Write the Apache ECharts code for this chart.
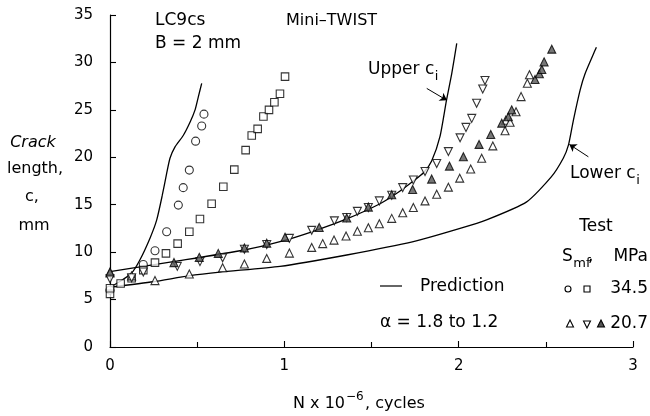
<!DOCTYPE html>
<html><head><meta charset="utf-8">
<script src="https://cdn.jsdelivr.net/npm/echarts/dist/echarts.min.js"></script>
<style>html,body{margin:0;padding:0;background:#fff}#c{width:650px;height:416px}</style>
</head><body><div id="c"></div>
<script>
// ---- data ----
const xTicks = [0, 1, 2, 3];
const yTicks = [0, 5, 10, 15, 20, 25, 30, 35];
// S_mf = 34.5 MPa
const circles345 = [[0,6.0],[0.191,8.7],[0.258,10.15],[0.325,12.15],[0.392,14.96],[0.42,16.8],[0.455,18.65],[0.491,21.7],[0.526,23.3],[0.539,24.55]];
const squares345 = [[0,5.6],[0,6.2],[0.061,6.7],[0.124,7.24],[0.191,8.1],[0.258,8.9],[0.321,9.87],[0.388,10.9],[0.455,12.15],[0.516,13.5],[0.583,15.1],[0.65,16.9],[0.713,18.7],[0.778,20.76],[0.813,22.3],[0.847,23.0],[0.88,24.3],[0.912,25.0],[0.943,25.8],[0.975,26.7],[1.004,28.5]];
// S_mf = 20.7 MPa
const upTri207 = [[0,7.8],[0.124,7.5],[0.258,7.0],[0.455,7.7],[0.646,8.36],[0.771,8.75],[0.899,9.34],[1.029,9.9],[1.157,10.5],[1.22,10.9],[1.285,11.27],[1.354,11.7],[1.419,12.2],[1.482,12.57],[1.545,13.0],[1.616,13.56],[1.679,14.15],[1.74,14.7],[1.807,15.4],[1.874,16.1],[1.941,16.85],[2.006,17.8],[2.069,18.76],[2.132,19.9],[2.196,21.2],[2.266,22.8],[2.27,23.9],[2.295,23.7],[2.329,24.8],[2.358,26.4],[2.394,27.8],[2.406,28.7]];
const downTri207 = [[0,7.2],[0.124,7.3],[0.191,7.9],[0.386,8.5],[0.516,9.0],[0.646,9.4],[0.771,10.3],[0.899,10.8],[1.029,11.45],[1.157,12.3],[1.287,13.3],[1.358,13.66],[1.419,14.3],[1.482,14.7],[1.545,15.4],[1.616,16.0],[1.679,16.8],[1.74,17.6],[1.807,18.5],[1.874,19.35],[1.941,20.6],[2.008,22.05],[2.042,23.15],[2.075,24.1],[2.103,25.7],[2.138,27.2],[2.151,28.1]];
const filledTri207 = [[0,7.9],[0.367,8.9],[0.512,9.45],[0.621,9.87],[0.771,10.45],[0.899,10.95],[1.004,11.56],[1.2,12.6],[1.358,13.6],[1.482,14.75],[1.616,16.05],[1.736,16.6],[1.845,17.7],[1.947,19.07],[2.027,20.05],[2.117,21.36],[2.184,22.4],[2.247,23.6],[2.285,24.27],[2.304,25.0],[2.438,28.2],[2.463,28.8],[2.477,29.26],[2.49,30.06],[2.534,31.4]];
// predictions
const pred345 = [[0,6.3],[0.057,6.9],[0.124,7.8],[0.172,9.2],[0.23,11.5],[0.268,13.4],[0.3,16.0],[0.325,18.3],[0.344,19.9],[0.373,21.1],[0.42,22.3],[0.459,23.7],[0.488,25.0],[0.507,26.4],[0.526,27.8]];
const upperCi = [[0,7.95],[0.363,9.0],[0.765,10.2],[0.975,11.1],[1.166,12.2],[1.358,13.5],[1.549,15.1],[1.645,16.2],[1.74,17.5],[1.8,18.4],[1.845,19.6],[1.893,22.2],[1.93,26.0],[1.96,28.8],[1.989,32.0]];
const lowerCi = [[0,6.3],[0.249,6.88],[0.449,7.5],[0.63,7.9],[0.975,8.5],[1.358,9.7],[1.74,11.1],[2.008,12.5],[2.16,13.4],[2.39,15.3],[2.53,17.9],[2.6,19.9],[2.63,21.3],[2.658,23.9],[2.697,27.1],[2.725,28.8],[2.783,31.3],[2.79,31.6]];
const arrowUpper = [[1.817,27.26],[1.933,26.0]];
const arrowLower = [[2.744,20.05],[2.635,21.36]];

// ---- chart ----
const FONT = '"DejaVu Sans", sans-serif';
const mctx = document.createElement('canvas').getContext('2d');
function tw(text, size){ mctx.font = size + 'px ' + FONT; return mctx.measureText(text).width; }
const chart = echarts.init(document.getElementById('c'), null, {renderer:'canvas'});
const open = {color:'#fff', borderColor:'#000', borderWidth:1.1};
function sc(data, symbol, size, style, rot){
  return {type:'scatter', data, symbol, symbolSize:size, symbolRotate:rot||0, itemStyle:style, z:3, silent:true};
}
function ln(data){
  return {type:'line', data, showSymbol:false, smooth:0.2, lineStyle:{color:'#000', width:1.3}, z:2, silent:true};
}
function arrow(coords){
  return {type:'lines', coordinateSystem:'cartesian2d', data:[{coords}], symbol:['none','arrow'], symbolSize:7,
    lineStyle:{color:'#000', width:1, opacity:1}, z:4, silent:true};
}
function txt(x, y, text, size, align, italic){
  return {type:'text', x, y, z:10, silent:true,
    style:{text, fill:'#000', font:(italic?'italic ':'')+size+'px '+FONT, align:align||'left', verticalAlign:'middle'}};
}
function withSub(x, y, main, sub, size, subSize){
  const w = tw(main, size);
  return [txt(x, y, main, size), txt(x + w + 0.5, y + 7, sub, subSize)];
}
const G = [];
G.push(txt(155,21,'LC9cs',17));
G.push(txt(155,44,'B = 2 mm',17));
G.push(txt(286,21,'Mini\u2013TWIST',16));
G.push(...withSub(368,70,'Upper c','i',17,13));
G.push(...withSub(570,174,'Lower c','i',17,13));
G.push(txt(596,227,'Test',17,'center'));
G.push(...withSub(562,257,'S','mf',17,13));
G.push(txt(588,257,',',17));
G.push(txt(648,257,'MPa',17,'right'));
G.push(txt(648,289,'34.5',17,'right'));
G.push(txt(648,324,'20.7',17,'right'));
G.push({type:'line', shape:{x1:380,y1:286,x2:402,y2:286}, style:{stroke:'#000', lineWidth:1.2}, z:10});
G.push(txt(420,287,'Prediction',17));
G.push(txt(380,323,'\u03b1 = 1.8 to 1.2',17));
// legend markers
G.push({type:'circle', shape:{cx:568,cy:289,r:3}, style:{fill:'#fff',stroke:'#000',lineWidth:1.1}, z:10});
G.push({type:'rect', shape:{x:584,y:286,width:6,height:6}, style:{fill:'#fff',stroke:'#000',lineWidth:1.1}, z:10});
G.push({type:'polygon', shape:{points:[[570,320],[566.5,327],[573.5,327]]}, style:{fill:'#fff',stroke:'#000',lineWidth:1.1}, z:10});
G.push({type:'polygon', shape:{points:[[587,328],[583.5,321],[590.5,321]]}, style:{fill:'#fff',stroke:'#000',lineWidth:1.1}, z:10});
G.push({type:'polygon', shape:{points:[[601,320],[597.5,327],[604.5,327]]}, style:{fill:'#555',stroke:'#000',lineWidth:1.1}, z:10});
// y-axis title
G.push(txt(33,143,'Crack',16,'center',true));
G.push(txt(35,169,'length,',16,'center'));
G.push(txt(32,197,'c,',16,'center'));
G.push(txt(34,226,'mm',16,'center'));
// x-axis title
G.push(txt(345,404,'N x 10',16,'right'));
G.push(txt(346,397,'\u22126',12,'left'));
G.push(txt(365,404,', cycles',16,'left'));

chart.setOption({
  animation:false,
  backgroundColor:'#fff',
  grid:{left:110, right:17, top:15, bottom:69},
  xAxis:{type:'value', min:xTicks[0], max:xTicks[xTicks.length-1], interval:1,
    axisLine:{show:true, onZero:false, lineStyle:{color:'#000', width:1.2}},
    axisTick:{show:true, inside:true, length:6, lineStyle:{color:'#000', width:1.1}},
    minorTick:{show:true, splitNumber:2, length:5, lineStyle:{color:'#000', width:1.1}},
    splitLine:{show:false},
    axisLabel:{color:'#000', fontSize:15, fontFamily:FONT, margin:12}},
  yAxis:{type:'value', min:yTicks[0], max:yTicks[yTicks.length-1], interval:5,
    axisLine:{show:true, onZero:false, lineStyle:{color:'#000', width:1.2}},
    axisTick:{show:true, inside:true, length:6, lineStyle:{color:'#000', width:1.1}},
    splitLine:{show:false},
    axisLabel:{color:'#000', fontSize:15, fontFamily:FONT, margin:17}},
  series:[
    ln(pred345), ln(upperCi), ln(lowerCi),
    arrow(arrowUpper), arrow(arrowLower),
    sc(circles345,'circle',8,open),
    sc(squares345,'rect',7.5,open),
    sc(upTri207,'triangle',8,open),
    sc(downTri207,'triangle',8,open,180),
    sc(filledTri207,'triangle',8,{color:'#555', borderColor:'#000', borderWidth:1.1})
  ],
  graphic:G
});
</script></body></html>
